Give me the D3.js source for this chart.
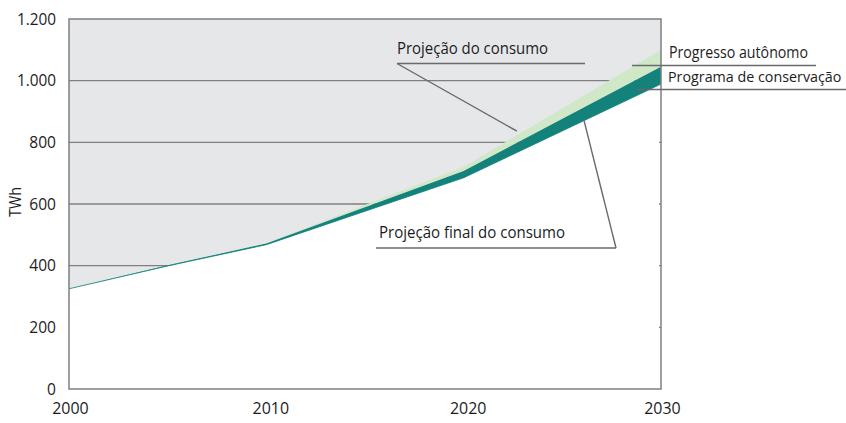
<!DOCTYPE html>
<html>
<head>
<meta charset="utf-8">
<script src="https://cdn.jsdelivr.net/npm/d3@7"></script>
<style>
  html, body { margin: 0; padding: 0; background: #fff; }
  svg { display: block; font-family: "Open Sans", "Noto Sans", sans-serif; }
</style>
</head>
<body>
<svg id="chart" width="846" height="423"></svg>
<script>
// Consumo de eletricidade (TWh), 2000–2030
const years = [2000, 2005, 2010, 2020, 2030];
// Projeção final do consumo (após conservação e progresso autônomo)
const finalConsumption = [325, 399, 468, 685, 989];
// Projeção com apenas o progresso autônomo (topo da faixa escura)
const withAutonomous = [325, 401, 472, 707, 1045];
// Projeção do consumo sem eficiência (topo da faixa clara)
const projectedConsumption = [325, 401, 473, 721, 1100];

const yTicks = [0, 200, 400, 600, 800, 1000, 1200];
const xTicks = [2000, 2010, 2020, 2030];
const yTickLabels = ["0", "200", "400", "600", "800", "1.000", "1.200"];

const svg = d3.select("#chart");
const margin = { left: 69, right: 185, top: 19, bottom: 34 };
const W = 846, H = 423;
const x = d3.scaleLinear().domain([2000, 2030]).range([margin.left, W - margin.right]);
const y = d3.scaleLinear().domain([0, 1200]).range([H - margin.bottom, margin.top]);

const rows = years.map((yr, i) => ({
  year: yr,
  fin: finalConsumption[i],
  aut: withAutonomous[i],
  proj: projectedConsumption[i]
}));

const gridColor = "#7f7f82";
const textColor = "#1c1c1c";

// plot background
svg.append("rect")
  .attr("x", x(2000)).attr("y", y(1200))
  .attr("width", x(2030) - x(2000)).attr("height", y(0) - y(1200))
  .attr("fill", "#e6e7e9");

// horizontal grid
svg.append("g")
  .selectAll("line")
  .data(yTicks.slice(1, -1))
  .join("line")
  .attr("x1", x(2000)).attr("x2", x(2030))
  .attr("y1", d => y(d)).attr("y2", d => y(d))
  .attr("stroke", gridColor).attr("stroke-width", 1.3);

// region below the final projection
svg.append("path")
  .datum(rows)
  .attr("fill", "#ffffff")
  .attr("d", d3.area().x(d => x(d.year)).y0(y(0)).y1(d => y(d.fin)));

// little tick marks left on the right frame
svg.append("g")
  .selectAll("line")
  .data(yTicks.slice(1, -1))
  .join("line")
  .attr("x1", x(2030) - 2).attr("x2", x(2030))
  .attr("y1", d => y(d)).attr("y2", d => y(d))
  .attr("stroke", gridColor).attr("stroke-width", 1.3);

// Progresso autônomo band
svg.append("path")
  .datum(rows)
  .attr("fill", "#d0e8c8")
  .attr("d", d3.area().x(d => x(d.year)).y0(d => y(d.aut)).y1(d => y(d.proj)));

// Programa de conservação band
svg.append("path")
  .datum(rows)
  .attr("fill", "#12827a")
  .attr("d", d3.area().x(d => x(d.year)).y0(d => y(d.fin)).y1(d => y(d.aut)));

// thin edge line of the final projection
svg.append("path")
  .datum(rows)
  .attr("fill", "none")
  .attr("stroke", "#12827a")
  .attr("stroke-width", 0.8)
  .attr("d", d3.line().x(d => x(d.year)).y(d => y(d.fin)));

// frame
svg.append("rect")
  .attr("x", x(2000)).attr("y", y(1200))
  .attr("width", x(2030) - x(2000)).attr("height", y(0) - y(1200))
  .attr("fill", "none").attr("stroke", gridColor).attr("stroke-width", 1.5);

// axes
const yAxis = svg.append("g")
  .attr("transform", `translate(${x(2000)},0)`)
  .call(d3.axisLeft(y).tickValues(yTicks).tickSize(0).tickPadding(13)
    .tickFormat((d, i) => yTickLabels[i]));
yAxis.select(".domain").remove();
yAxis.selectAll("text").attr("font-size", 16.5).attr("fill", textColor)
  .attr("font-family", "'Open Sans', sans-serif")
  .each(function () {
    const n = this.textContent.replace(".", "").length;
    const hasDot = this.textContent.includes(".");
    this.setAttribute("textLength", n * 8.9 + (hasDot ? 3.5 : 0));
    this.setAttribute("lengthAdjust", "spacingAndGlyphs");
  });

const xAxis = svg.append("g")
  .attr("transform", `translate(0,${y(0)})`)
  .call(d3.axisBottom(x).tickValues(xTicks).tickSize(0).tickPadding(13).tickFormat(d3.format("d")));
xAxis.select(".domain").remove();
xAxis.selectAll("text").attr("font-size", 16.5).attr("fill", textColor)
  .attr("font-family", "'Open Sans', sans-serif")
  .attr("textLength", 36.5)
  .attr("lengthAdjust", "spacingAndGlyphs")
  .attr("dx", d => (d === 2010 || d === 2020) ? 4 : 1);

// y-axis title
svg.append("text")
  .attr("transform", `translate(21,${y(600) - 2}) rotate(-90)`)
  .attr("text-anchor", "middle")
  .attr("font-size", 16)
  .attr("fill", textColor)
  .attr("textLength", 30)
  .attr("lengthAdjust", "spacingAndGlyphs")
  .text("TWh");

// annotations
const leader = "#6a6a6c";
function label(txt, lx, ly, len, size) {
  const t = svg.append("text")
    .attr("x", lx).attr("y", ly)
    .attr("font-size", size || 16.5)
    .attr("fill", textColor)
    .text(txt);
  if (len) t.attr("textLength", len).attr("lengthAdjust", "spacingAndGlyphs");
}
function seg(x1, y1, x2, y2) {
  svg.append("line")
    .attr("x1", x1).attr("y1", y1).attr("x2", x2).attr("y2", y2)
    .attr("stroke", leader).attr("stroke-width", 1.4);
}

// Projeção do consumo → top of the light band near 2023
label("Projeção do consumo", 397, 54, 151);
seg(397, 63.5, 585, 63.5);
seg(397, 63.5, x(2022.7), y(d3.interpolateNumber(721, 1100)(0.27)) - 4);

// Projeção final do consumo → bottom of the dark band near 2026
label("Projeção final do consumo", 379, 238, 186);
seg(376, 248, 616, 248);
seg(616, 248, x(2026.1), y(d3.interpolateNumber(685, 989)(0.61)));

// right-hand labels
label("Progresso autônomo", 669, 58, 139);
seg(632, 65.5, 816, 65.5);
label("Programa de conservação", 668, 82, null, 14.3);
seg(637, 89.5, 846, 89.5);
</script>
</body>
</html>
